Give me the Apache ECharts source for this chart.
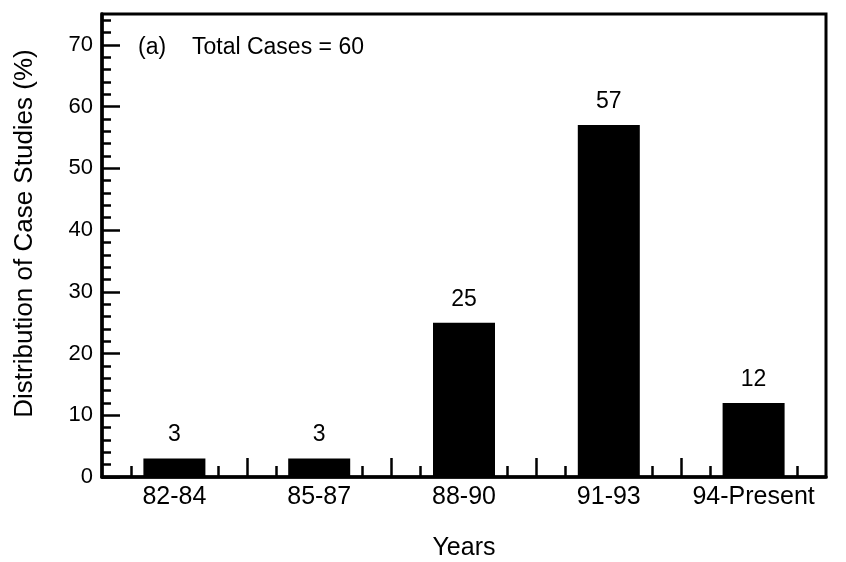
<!DOCTYPE html>
<html>
<head>
<meta charset="utf-8">
<script src="https://cdn.jsdelivr.net/npm/echarts@6/dist/echarts.min.js"></script>
<style>
  html, body { margin: 0; padding: 0; background: #fff; }
  #chart { width: 846px; height: 562px; }
</style>
</head>
<body>
<div id="chart"></div>
<script>
const categories = ['82-84', '85-87', '88-90', '91-93', '94-Present'];
const shares = [3, 3, 25, 57, 12];
const yMajorTicks = [0, 10, 20, 30, 40, 50, 60, 70];
const yMinorTicks = [2, 4, 6, 8, 12, 14, 16, 18, 22, 24, 26, 28, 32, 34, 36, 38,
  42, 44, 46, 48, 52, 54, 56, 58, 62, 64, 66, 68, 72, 74];
const xMajorTicks = [1, 2, 3, 4];
const xMinorTicks = [0.2, 0.8, 1.2, 1.8, 2.2, 2.8, 3.2, 3.8, 4.2, 4.8];

const font = 'Liberation Sans, Arial, Helvetica, sans-serif';
const chart = echarts.init(document.getElementById('chart'));

// extra value axes that only carry the inside tick marks
const tickAxis = (dim, ticks, len, max) => ({
  type: 'value',
  min: 0,
  max: max,
  position: dim === 'x' ? 'bottom' : 'left',
  axisLine: { show: false },
  axisLabel: { show: false },
  splitLine: { show: false },
  axisTick: {
    show: true,
    inside: true,
    length: len,
    customValues: ticks,
    lineStyle: { color: '#000', width: 2.5 }
  }
});

chart.setOption({
  animation: false,
  backgroundColor: '#fff',
  textStyle: { fontFamily: font, color: '#000' },
  title: [
    { text: '(a)', left: 133, top: 31, textStyle: { fontFamily: font, fontSize: 23, fontWeight: 'normal', color: '#000' } },
    { text: 'Total Cases = 60', left: 187, top: 31, textStyle: { fontFamily: font, fontSize: 23, fontWeight: 'normal', color: '#000' } }
  ],
  grid: {
    left: 102,
    right: 20,
    top: 14,
    bottom: 85,
    show: true,
    borderColor: '#000',
    borderWidth: 3,
    containLabel: false,
    outerBoundsMode: 'none'
  },
  xAxis: [
    {
      type: 'category',
      data: categories,
      position: 'bottom',
      axisLine: { lineStyle: { color: '#000', width: 3.5 } },
      axisTick: { show: false },
      axisLabel: { interval: 0, fontSize: 25, color: '#000', margin: 8, fontFamily: font },
      name: 'Years',
      nameLocation: 'middle',
      nameGap: 59,
      nameTextStyle: { fontSize: 25, color: '#000', fontFamily: font }
    },
    tickAxis('x', xMajorTicks, 19, 5),
    tickAxis('x', xMinorTicks, 11, 5)
  ],
  yAxis: [
    {
      type: 'value',
      min: 0,
      max: 75,
      interval: 10,
      position: 'left',
      axisLine: { show: true, lineStyle: { color: '#000', width: 3.5 } },
      splitLine: { show: false },
      axisTick: {
        show: true,
        inside: true,
        length: 18,
        customValues: yMajorTicks,
        lineStyle: { color: '#000', width: 2.5 }
      },
      axisLabel: {
        customValues: yMajorTicks,
        fontSize: 22,
        color: '#000',
        margin: 9,
        fontFamily: font
      },
      name: 'Distribution of Case Studies (%)',
      nameLocation: 'middle',
      nameGap: 64,
      nameTextStyle: { fontSize: 26, color: '#000', fontFamily: font, padding: [0, 0, 0, 24] }
    },
    tickAxis('y', yMinorTicks, 9, 75)
  ],
  series: [
    {
      type: 'bar',
      xAxisIndex: 0,
      yAxisIndex: 0,
      data: shares,
      barWidth: 62,
      itemStyle: { color: '#000' },
      label: {
        show: true,
        position: 'top',
        distance: 12,
        fontSize: 23,
        color: '#000',
        fontFamily: font
      }
    }
  ]
});
</script>
</body>
</html>
